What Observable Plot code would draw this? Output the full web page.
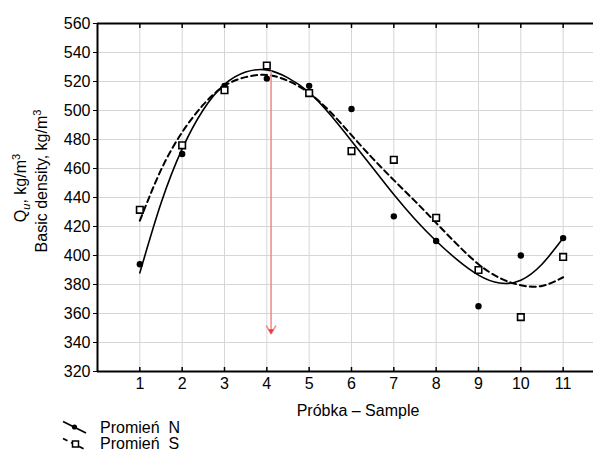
<!DOCTYPE html>
<html><head><meta charset="utf-8">
<script src="https://cdn.jsdelivr.net/npm/d3@7"></script>
<script src="https://cdn.jsdelivr.net/npm/@observablehq/plot@0.6"></script>
<style>
body{margin:0;background:#fff;}
svg{font-family:"Liberation Sans",Arial,sans-serif;}
</style>
</head><body><div id="chart"></div>
<script>
// Data
const samples = [1, 2, 3, 4, 5, 6, 7, 8, 9, 10, 11];
const densityN = [394, 470, 517, 522, 517, 501, 427, 410, 365, 400, 412];
const densityS = [431.5, 476, 514, 531, 512, 472, 466, 426, 390, 357.5, 399];
// fitted curves at half steps
const fitX = [1, 1.5, 2, 2.5, 3, 3.5, 4, 4.5, 5, 5.5, 6, 6.5, 7, 7.5, 8, 8.5, 9, 9.5, 10, 10.5, 11];
const fitN = [388, 436, 473.5, 500.5, 518, 526.5, 528, 522.5, 512.5, 497, 479, 460.5, 442, 425, 410, 397, 386.5, 381, 383, 394, 412];
const fitS = [424, 459, 485, 504, 517, 523, 524.5, 520.5, 512, 499, 483, 467, 452, 437.5, 422.5, 407.5, 394, 384.5, 379.5, 379, 385];
const xTicks = [1, 2, 3, 4, 5, 6, 7, 8, 9, 10, 11];
const yTicks = [320, 340, 360, 380, 400, 420, 440, 460, 480, 500, 520, 540, 560];
const xDomain = [0, 11.717];
const yDomain = [320, 560];
const arrowX = 4.1, arrowTop = 527, arrowBottom = 346;
const legendLabels = ["Promień  N", "Promień  S"];
const xLabel = "Próbka – Sample";

const ptsN = samples.map((s, i) => ({x: s, y: densityN[i]}));
const ptsS = samples.map((s, i) => ({x: s, y: densityS[i]}));
const curveN = fitX.map((s, i) => ({x: s, y: fitN[i]}));
const curveS = fitX.map((s, i) => ({x: s, y: fitS[i]}));

const chart = Plot.plot({
  width: 593, height: 452,
  marginLeft: 97, marginRight: 0, marginTop: 23, marginBottom: 81,
  style: {fontFamily: '"Liberation Sans",Arial,sans-serif', fontSize: "16px", color: "#000", background: "#fff"},
  x: {domain: xDomain},
  y: {domain: yDomain},
  marks: [
    Plot.gridX(xTicks, {stroke: "#d6d6d6", strokeOpacity: 1}),
    Plot.gridY(yTicks, {stroke: "#d6d6d6", strokeOpacity: 1}),
    Plot.axisY(yTicks, {tickSize: 4, tickPadding: 3, label: null, fontSize: 16}),
    Plot.axisX(xTicks, {tickSize: 0, tickPadding: 6, label: null, fontSize: 16}),
    Plot.axisX(xTicks, {tickSize: -4, text: null, label: null, strokeWidth: 1.5}),
    Plot.axisX(xTicks, {anchor: "top", tickSize: -4, text: null, label: null, strokeWidth: 1.5}),
    Plot.ruleY([yDomain[0], yDomain[1]], {stroke: "#000", strokeWidth: 2}),
    Plot.ruleX([xDomain[0]], {stroke: "#000", strokeWidth: 2}),
    Plot.line(curveS, {x: "x", y: "y", stroke: "#000", strokeWidth: 2, strokeDasharray: "6,4", curve: "natural"}),
    Plot.line(curveN, {x: "x", y: "y", stroke: "#000", strokeWidth: 1.6, curve: "natural"}),
    Plot.arrow([{x1: arrowX, y1: arrowTop, x2: arrowX, y2: arrowBottom}], {x1: "x1", y1: "y1", x2: "x2", y2: "y2", stroke: "#f28888", strokeWidth: 1.5, headLength: 9}),
    Plot.dot([{x: arrowX, y: arrowBottom}], {x: "x", y: "y", symbol: "triangle2", rotate: 180, r: 2.6, fill: "#e8383e", dy: -3}),
    Plot.dot(ptsN, {x: "x", y: "y", r: 3.2, fill: "#000", symbol: "circle"}),
    Plot.dot(ptsS, {x: "x", y: "y", r: 3.7, symbol: "square", fill: "#fff", stroke: "#000", strokeWidth: 1.6})
  ]
});
document.getElementById("chart").appendChild(chart);

const svg = d3.select(chart);
const font = '"Liberation Sans",Arial,sans-serif';
// y-axis label (two lines)
const l1 = svg.append("text").attr("transform", "translate(26,188) rotate(-90)")
  .attr("text-anchor", "middle").attr("font-size", 16).attr("font-family", font).attr("fill", "#000");
l1.append("tspan").text("Q");
l1.append("tspan").attr("font-size", 11).attr("font-style", "italic").attr("dy", 4).text("u");
l1.append("tspan").attr("dy", -4).text(", kg/m");
l1.append("tspan").attr("font-size", 11).attr("dy", -6).text("3");
const l2 = svg.append("text").attr("transform", "translate(47,181) rotate(-90)")
  .attr("text-anchor", "middle").attr("font-size", 16).attr("font-family", font).attr("fill", "#000");
l2.append("tspan").text("Basic density, kg/m");
l2.append("tspan").attr("font-size", 11).attr("dy", -6).text("3");
// x-axis label
svg.append("text").attr("x", 358).attr("y", 416).attr("text-anchor", "middle")
  .attr("font-size", 16).attr("font-family", font).attr("fill", "#000").text(xLabel);
// legend
const lg = svg.append("g").attr("text-anchor", "start");
lg.append("line").attr("x1", 63).attr("y1", 421.5).attr("x2", 86).attr("y2", 433).attr("stroke", "#000").attr("stroke-width", 1.6);
lg.append("circle").attr("cx", 74.5).attr("cy", 427).attr("r", 2.6).attr("fill", "#000");
lg.append("line").attr("x1", 63).attr("y1", 438.5).attr("x2", 86).attr("y2", 450).attr("stroke", "#000").attr("stroke-width", 1.8).attr("stroke-dasharray", "5,4");
lg.append("rect").attr("x", 72.5).attr("y", 441).attr("width", 6).attr("height", 6).attr("fill", "#fff").attr("stroke", "#000").attr("stroke-width", 1.5);
lg.append("text").attr("x", 100).attr("y", 432.5).attr("text-anchor", "start").attr("font-size", 16).attr("font-family", font).attr("fill", "#000").style("white-space", "pre").text(legendLabels[0]);
lg.append("text").attr("x", 100).attr("y", 449).attr("text-anchor", "start").attr("font-size", 16).attr("font-family", font).attr("fill", "#000").style("white-space", "pre").text(legendLabels[1]);
</script>
</body></html>
